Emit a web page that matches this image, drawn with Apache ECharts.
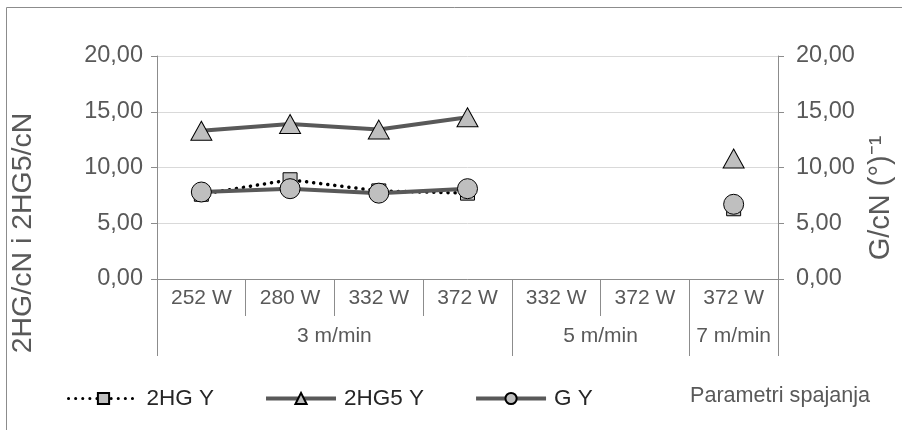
<!DOCTYPE html>
<html><head><meta charset="utf-8">
<script src="https://cdn.jsdelivr.net/npm/echarts@6/dist/echarts.min.js"></script>
<style>html,body{margin:0;padding:0;background:#fff}#c{width:902px;height:430px}</style>
</head><body><div id="c"></div>
<script>
const categories = ['252 W','280 W','332 W','372 W','332 W','372 W','372 W'];
const groups = ['3 m/min','5 m/min','7 m/min'];
const groupCenters = [2, 5, 6.5];
const groupBounds = [0, 4, 6, 7];
const hg2Y  = [7.6, 8.9, 7.9, 7.7, null, null, 6.3];
const hg25Y = [13.3, 13.9, 13.4, 14.5, null, null, 10.8];
const gY    = [7.8, 8.1, 7.7, 8.1, null, null, 6.7];
const yTicks = [0, 5, 10, 15, 20];

const FONT = 'Liberation Sans, Arial, sans-serif';
const TXT = '#595959';
const AX = '#8c8c8c';
const chart = echarts.init(document.getElementById('c'), null, {renderer:'canvas'});
const fmt = v => v.toFixed(2).replace('.', ',');
const yAxisBase = (pos, margin) => ({
  type:'value', position:pos, min:yTicks[0], max:yTicks[yTicks.length-1], interval:5,
  axisLine:{show:true, lineStyle:{color:AX, width:1}},
  axisTick:{show:true, inside:false, length:6, lineStyle:{color:AX}},
  splitLine:{show:true, lineStyle:{color:'#d9d9d9', width:1}},
  axisLabel:{formatter:fmt, color:TXT, fontSize:23.5, fontFamily:FONT, margin:margin}
});
chart.setOption({
  animation:false,
  grid:{left:157, right:124, top:56, bottom:151},
  xAxis:[
    {type:'category', data:categories, boundaryGap:true, position:'bottom',
     axisLine:{show:true, lineStyle:{color:AX}},
     axisTick:{show:true, interval:0, length:37, lineStyle:{color:AX}},
     axisLabel:{interval:0, color:TXT, fontSize:21, fontFamily:FONT, margin:9}},
    {type:'value', min:0, max:7, position:'bottom',
     axisLine:{show:false},
     splitLine:{show:false},
     axisTick:{show:true, customValues:groupBounds, length:77, lineStyle:{color:AX}},
     axisLabel:{customValues:groupCenters, color:TXT, fontSize:21, fontFamily:FONT, margin:47,
       formatter:v => groups[groupCenters.indexOf(v)]}}
  ],
  yAxis:[yAxisBase('left', 14), Object.assign(yAxisBase('right', 18), {splitLine:{show:false}})],
  legend:{
    left:62, top:382, itemWidth:70, itemHeight:14, itemGap:50,
    textStyle:{color:'#262626', fontSize:22.5, fontFamily:FONT, padding:[0,0,0,3]},
    data:[
      {name:'2HG Y', lineStyle:{width:3}},
      {name:'2HG5 Y', lineStyle:{width:4}},
      {name:'G Y', lineStyle:{width:4}}
    ]
  },
  series:[
    {name:'2HG Y', type:'line', data:hg2Y, yAxisIndex:0, symbol:'rect', symbolSize:14,
     lineStyle:{color:'#000', width:3.5, type:[0.1,7], cap:'round'},
     itemStyle:{color:'#bfbfbf', borderColor:'#000', borderWidth:1}, z:2},
    {name:'2HG5 Y', type:'line', data:hg25Y, yAxisIndex:0, symbol:'triangle', symbolSize:[21,19],
     lineStyle:{color:'#595959', width:4},
     itemStyle:{color:'#bfbfbf', borderColor:'#000', borderWidth:1}, z:3},
    {name:'G Y', type:'line', data:gY, yAxisIndex:1, symbol:'circle', symbolSize:20,
     lineStyle:{color:'#595959', width:4},
     itemStyle:{color:'#bfbfbf', borderColor:'#000', borderWidth:1}, z:4}
  ],
  graphic:[
    {type:'rect', shape:{x:6.5, y:7.5, width:1000, height:1000}, style:{fill:'none', stroke:'#8c8c8c', lineWidth:1}, silent:true},
    {type:'text', x:23, y:233, rotation:Math.PI/2,
     style:{text:'2HG/cN i 2HG5/cN', fill:TXT, font:'28.5px '+FONT, textAlign:'center', textVerticalAlign:'middle'}},
    {type:'text', x:881, y:198, rotation:Math.PI/2,
     style:{text:'G/cN (°)⁻¹', fill:TXT, font:'29px '+FONT, textAlign:'center', textVerticalAlign:'middle'}},
    {type:'text', x:690, y:396,
     style:{text:'Parametri spajanja', fill:TXT, font:'21.6px '+FONT, textAlign:'left', textVerticalAlign:'middle'}}
  ]
});
</script></body></html>
